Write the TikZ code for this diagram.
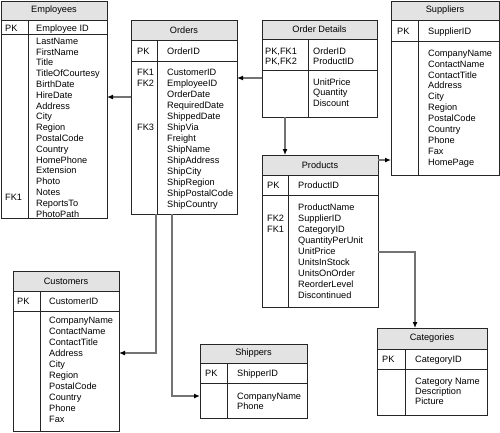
\documentclass[tikz,border=0pt]{standalone}
\usepackage{fontspec}
\setmainfont{Liberation Sans}
\usetikzlibrary{arrows.meta}
\newcommand\erdcol[5]{\foreach \t [count=\i] in {#5} {\node[fld] (#1\i) at (#2,{#3+(\i-1)*#4}) {\t};}}
\begin{document}
\begin{tikzpicture}[x=1pt,y=-1pt,
  tbl/.style={draw=black!85, line width=0.9pt, inner sep=0pt, outer sep=0pt, anchor=north west, font=\fontsize{9.2}{10}\selectfont},
  hdr/.style={tbl, fill=black!11},
  divl/.style={draw=black!85, line width=0.9pt},
  fld/.style={anchor=west, inner sep=0pt, text height=6.5pt, text depth=0pt, font=\fontsize{9.2}{10}\selectfont},
  conn/.style={draw=black!55, line width=1.2pt, -{Latex[length=6pt,width=5pt,color=black]}},
]
\useasboundingbox (0,0) rectangle (500,432);

% ---------------- Employees
\node[hdr, minimum width=106pt, minimum height=19pt] (emph) at (1,1) {Employees};
\node[tbl, minimum width=106pt, minimum height=14pt] (empk) at (1,20) {};
\node[tbl, minimum width=106pt, minimum height=184pt] (empb) at (1,34) {};
\draw[divl] ([xshift=27pt]empk.north west) -- ([xshift=27pt]empb.south west);
\node[fld] (empk1) at (5,28) {PK};
\node[fld] (empk2) at (36,28) {Employee ID};
\erdcol{empf}{36}{41}{10.8}{LastName,FirstName,Title,TitleOfCourtesy,BirthDate,HireDate,Address,City,Region,PostalCode,Country,HomePhone,Extension,Photo,Notes,ReportsTo,PhotoPath}
\node[fld] (empfk) at (5,197) {FK1};

% ---------------- Orders
\node[hdr, minimum width=106pt, minimum height=20pt] (ordh) at (131,20) {Orders};
\node[tbl, minimum width=106pt, minimum height=21pt] (ordk) at (131,40) {};
\node[tbl, minimum width=106pt, minimum height=153pt] (ordb) at (131,61) {};
\draw[divl] ([xshift=26pt]ordk.north west) -- ([xshift=26pt]ordb.south west);
\node[fld] (ordk1) at (137,51) {PK};
\node[fld] (ordk2) at (167,51) {OrderID};
\erdcol{ordf}{167}{72}{11}{CustomerID,EmployeeID,OrderDate,RequiredDate,ShippedDate,ShipVia,Freight,ShipName,ShipAddress,ShipCity,ShipRegion,ShipPostalCode,ShipCountry}
\node[fld] (ordfk1) at (137,72) {FK1};
\node[fld] (ordfk2) at (137,83) {FK2};
\node[fld] (ordfk3) at (137,127) {FK3};

% ---------------- Order Details
\node[hdr, minimum width=115pt, minimum height=19pt] (odh) at (262,20) {Order Details};
\node[tbl, minimum width=115pt, minimum height=31pt] (odk) at (262,39) {};
\node[tbl, minimum width=115pt, minimum height=47pt] (odb) at (262,70) {};
\draw[divl] ([xshift=46pt]odk.north west) -- ([xshift=46pt]odb.south west);
\erdcol{odk}{265}{51}{10}{{PK,FK1},{PK,FK2}}
\erdcol{odkf}{313}{51}{10}{OrderID,ProductID}
\erdcol{odf}{313}{82}{10.5}{UnitPrice,Quantity,Discount}

% ---------------- Suppliers
\node[hdr, minimum width=108pt, minimum height=19pt] (suph) at (391,1) {Suppliers};
\node[tbl, minimum width=108pt, minimum height=21pt] (supk) at (391,20) {};
\node[tbl, minimum width=108pt, minimum height=134pt] (supb) at (391,41) {};
\draw[divl] ([xshift=27pt]supk.north west) -- ([xshift=27pt]supb.south west);
\node[fld] (supk1) at (397,31) {PK};
\node[fld] (supk2) at (428,31) {SupplierID};
\erdcol{supf}{428}{53}{10.9}{CompanyName,ContactName,ContactTitle,Address,City,Region,PostalCode,Country,Phone,Fax,HomePage}

% ---------------- Products
\node[hdr, minimum width=116pt, minimum height=20pt] (prh) at (262,155) {Products};
\node[tbl, minimum width=116pt, minimum height=20pt] (prk) at (262,175) {};
\node[tbl, minimum width=116pt, minimum height=112pt] (prb) at (262,195) {};
\draw[divl] ([xshift=26pt]prk.north west) -- ([xshift=26pt]prb.south west);
\node[fld] (prk1) at (267,185) {PK};
\node[fld] (prk2) at (298,185) {ProductID};
\erdcol{prf}{298}{207}{11}{ProductName,SupplierID,CategoryID,QuantityPerUnit,UnitPrice,UnitsInStock,UnitsOnOrder,ReorderLevel,Discontinued}
\node[fld] (prfk2) at (267,218) {FK2};
\node[fld] (prfk1) at (267,229) {FK1};

% ---------------- Categories
\node[hdr, minimum width=110pt, minimum height=21pt] (cath) at (377,328) {Categories};
\node[tbl, minimum width=110pt, minimum height=20pt] (catk) at (377,349) {};
\node[tbl, minimum width=110pt, minimum height=46pt] (catb) at (377,369) {};
\draw[divl] ([xshift=28pt]catk.north west) -- ([xshift=28pt]catb.south west);
\node[fld] (catk1) at (382,359) {PK};
\node[fld] (catk2) at (415,359) {CategoryID};
\erdcol{catf}{415}{381}{10}{Category Name,Description,Picture}

% ---------------- Customers
\node[hdr, minimum width=106pt, minimum height=20pt] (cush) at (13,271) {Customers};
\node[tbl, minimum width=106pt, minimum height=20pt] (cusk) at (13,291) {};
\node[tbl, minimum width=106pt, minimum height=120pt] (cusb) at (13,311) {};
\draw[divl] ([xshift=27pt]cusk.north west) -- ([xshift=27pt]cusb.south west);
\node[fld] (cusk1) at (17,301) {PK};
\node[fld] (cusk2) at (49,301) {CustomerID};
\erdcol{cusf}{49}{320}{11}{CompanyName,ContactName,ContactTitle,Address,City,Region,PostalCode,Country,Phone,Fax}

% ---------------- Shippers
\node[hdr, minimum width=107pt, minimum height=19pt] (shph) at (200,344) {Shippers};
\node[tbl, minimum width=107pt, minimum height=20pt] (shpk) at (200,363) {};
\node[tbl, minimum width=107pt, minimum height=35pt] (shpb) at (200,383) {};
\draw[divl] ([xshift=27pt]shpk.north west) -- ([xshift=27pt]shpb.south west);
\node[fld] (shpk1) at (205,373) {PK};
\node[fld] (shpk2) at (237,373) {ShipperID};
\erdcol{shpf}{237}{396}{10}{CompanyName,Phone}

% ---------------- connectors
\draw[conn] ([yshift=-36pt]ordb.north west) -- ([yshift=-63pt]empb.north east);
\draw[conn] ([yshift=-8pt]odb.north west) -- ([yshift=-17pt]ordb.north east);
\draw[conn] ([xshift=23pt]odb.south west) -- ([xshift=23pt]prh.north west);
\draw[conn] ([yshift=-5pt]prh.north east) -- ([yshift=-119pt]supb.north west);
\draw[conn] ([yshift=-57pt]prb.north east) -| ([xshift=38pt]cath.north west);
\draw[conn] ([xshift=25pt]ordb.south west) |- ([yshift=-42pt]cusb.north east);
\draw[conn] ([xshift=41pt]ordb.south west) |- ([yshift=-13pt]shpb.north west);
\end{tikzpicture}
\end{document}
